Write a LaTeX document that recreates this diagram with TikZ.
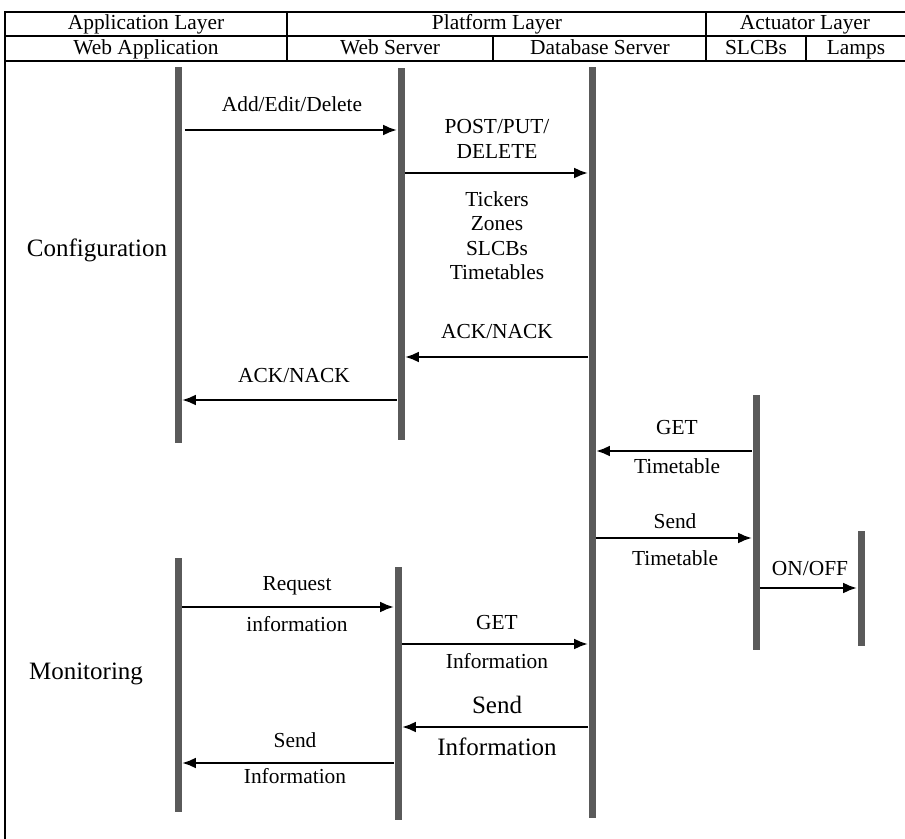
\documentclass[tikz,border=0pt]{standalone}
\usepackage{fontspec}
\setmainfont{Liberation Serif}
\usetikzlibrary{arrows.meta}

\definecolor{barGray}{HTML}{5A5A5A}

\begin{document}
\begin{tikzpicture}[x=0.5pt, y=-0.5pt,
    lifeline/.style={fill=barGray, minimum width=3.5pt, inner sep=0pt},
    msg/.style={-{Latex[length=7pt, width=5.5pt]}, line width=1.3pt, black},
    lbl/.style={font=\fontsize{10.7}{12.2}\selectfont, inner sep=0pt, align=center},
    biglbl/.style={font=\fontsize{12.5}{14}\selectfont, inner sep=0pt, align=center},
    head/.style={font=\fontsize{10.7}{12}\selectfont, inner sep=0pt, anchor=base}]

    \useasboundingbox (0,0) rectangle (905,839);

    % header table
    \draw[line width=0.6pt] (5,839) -- (5,12) -- (905,12);
    \draw[line width=0.6pt] (5,36) -- (905,36);
    \draw[line width=0.6pt] (5,61) -- (905,61);
    \draw[line width=0.6pt] (287,12) -- (287,61);
    \draw[line width=0.6pt] (706,12) -- (706,61);
    \draw[line width=0.6pt] (493,36) -- (493,61);
    \draw[line width=0.6pt] (806,36) -- (806,61);

    \node[head] (appL) at (146,30) {Application Layer};
    \node[head] (platL) at (497,30) {Platform Layer};
    \node[head] (actL) at (805,30) {Actuator Layer};
    \node[head] (webApp) at (146,55) {Web Application};
    \node[head] (webSrv) at (390,55) {Web Server};
    \node[head] (dbSrv) at (600,55) {Database Server};
    \node[head] (slcbH) at (756,55) {SLCBs};
    \node[head] (lampH) at (856,55) {Lamps};

    % lifelines
    \node[lifeline, minimum height=188pt] (wa1) at (178,255) {};
    \node[lifeline, minimum height=186pt] (ws1) at (401,254) {};
    \node[lifeline, minimum height=375.5pt] (db) at (592,442.5) {};
    \node[lifeline, minimum height=127.5pt] (sl) at (756,522.5) {};
    \node[lifeline, minimum height=57.5pt] (lp) at (861,588.5) {};
    \node[lifeline, minimum height=127pt] (wa2) at (178,685) {};
    \node[lifeline, minimum height=126.5pt] (ws2) at (398,693.5) {};

    % phases
    \node[biglbl] (conf) at (97,250) {Configuration};
    \node[biglbl] (mon) at (86,674) {Monitoring};

    % configuration
    \draw[msg, shorten <=1.5pt] (wa1.east |- 0,130) -- (ws1.west |- 0,130);
    \node[lbl] (addL) at (292,104) {Add/Edit/Delete};

    \draw[msg] (ws1.east |- 0,173) -- (db.west |- 0,173);
    \node[lbl] (postL) at (497,139) {POST/PUT/\\DELETE};
    \node[lbl] (itemL) at (497,235.5) {Tickers\\Zones\\SLCBs\\Timetables};

    \draw[msg] (db.west |- 0,357) -- (ws1.east |- 0,357);
    \node[lbl] (ack1L) at (497,332) {ACK/NACK};

    \draw[msg] (ws1.west |- 0,400) -- (wa1.east |- 0,400);
    \node[lbl] (ack2L) at (294,376) {ACK/NACK};

    % timetable
    \draw[msg] (sl.west |- 0,451) -- (db.east |- 0,451);
    \node[lbl] (getL) at (677,428) {GET};
    \node[lbl] (ttL) at (677,466) {Timetable};

    \draw[msg] (db.east |- 0,538) -- (sl.west |- 0,538);
    \node[lbl] (sendL) at (675,521) {Send};
    \node[lbl] (tt2L) at (675,558) {Timetable};

    \draw[msg] (sl.east |- 0,588) -- (lp.west |- 0,588);
    \node[lbl] (onL) at (810,569) {ON/OFF};

    % monitoring
    \draw[msg] (wa2.east |- 0,607) -- (ws2.west |- 0,607);
    \node[lbl] (reqL) at (297,586) {Request};
    \node[lbl] (infL) at (297,624) {information};

    \draw[msg] (ws2.east |- 0,644) -- (db.west |- 0,644);
    \node[lbl] (get2L) at (497,623) {GET};
    \node[lbl] (inf2L) at (497,661) {Information};

    \draw[msg] (db.west |- 0,727) -- (ws2.east |- 0,727);
    \node[biglbl] (send2L) at (497,705) {Send};
    \node[biglbl] (inf3L) at (497,747) {Information};

    \draw[msg] (ws2.west |- 0,763) -- (wa2.east |- 0,763);
    \node[lbl] (send3L) at (295,740) {Send};
    \node[lbl] (inf4L) at (295,776) {Information};

\end{tikzpicture}
\end{document}
